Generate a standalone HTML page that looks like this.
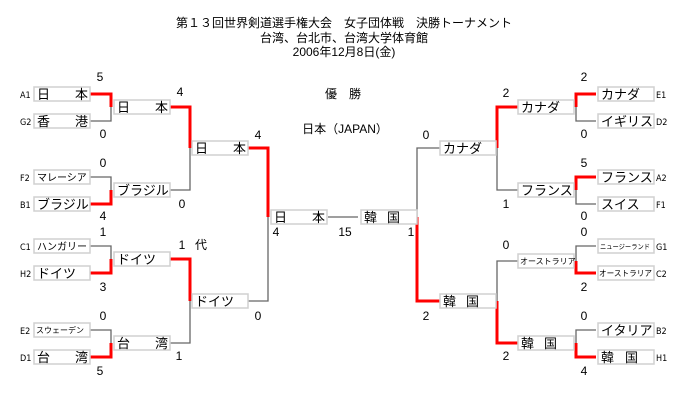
<!DOCTYPE html>
<html><head><meta charset="utf-8"><style>
html,body{margin:0;padding:0;background:#fff;width:700px;height:400px;overflow:hidden}
svg{display:block}
text{font-family:"Liberation Sans","Noto Sans CJK JP",sans-serif;fill:#000}
.b{fill:#fff;stroke:#d0d0d0;stroke-width:1.5}
.n{font-size:13px}
.s{font-size:8px}
.sc{font-size:12px}
.lb{font-size:9px;font-family:"DejaVu Sans Condensed","Liberation Sans",sans-serif}
.g{stroke:#666;stroke-width:1.3;fill:none}
.r{stroke:#f00;stroke-width:3;fill:none}
</style></head><body>
<svg width="700" height="400" xmlns="http://www.w3.org/2000/svg">
<text x="344" y="27" text-anchor="middle" style="font-size:12px">第１３回世界剣道選手権大会　女子団体戦　決勝トーナメント</text>
<text x="344" y="42" text-anchor="middle" style="font-size:12px">台湾、台北市、台湾大学体育館</text>
<text x="344" y="56" text-anchor="middle" style="font-size:12px">2006年12月8日(金)</text>
<text x="343" y="98" text-anchor="middle" style="font-size:12px">優　勝</text>
<text x="345" y="133" text-anchor="middle" style="font-size:12px">日本（JAPAN）</text>

<path class="r" d="M90 94H111V107"/><path class="g" d="M90 121H111V107"/>
<path class="g" d="M90 177H111V190"/><path class="r" d="M90 204H111V190"/>
<path class="g" d="M90 246H111V259"/><path class="r" d="M90 273H111V259"/>
<path class="g" d="M90 330H111V343"/><path class="r" d="M90 357H111V343"/>
<path class="r" d="M170 107H190V148"/><path class="g" d="M170 190H190V148"/>
<path class="r" d="M170 259H190V301"/><path class="g" d="M170 343H190V301"/>
<path class="r" d="M248 148H268V217"/><path class="g" d="M248 301H268V217"/>
<path class="g" d="M328 217H358"/>
<path class="g" d="M440 148H417V217"/><path class="r" d="M440 301H417V217"/>
<path class="r" d="M518 107H497V148"/><path class="g" d="M518 190H497V148"/>
<path class="g" d="M518 261H497V301"/><path class="r" d="M518 343H497V301"/>
<path class="r" d="M596 94H576V107"/><path class="g" d="M596 121H576V107"/>
<path class="r" d="M596 177H576V190"/><path class="g" d="M596 204H576V190"/>
<path class="g" d="M596 246H576V261"/><path class="r" d="M596 273H576V261"/>
<path class="g" d="M596 330H576V343"/><path class="r" d="M596 357H576V343"/>

<rect class="b" x="34" y="87" width="56" height="14"/><text class="n" x="37" y="99">日</text><text class="n" x="75" y="99">本</text>
<rect class="b" x="34" y="114" width="56" height="14"/><text class="n" x="37" y="126">香</text><text class="n" x="75" y="126">港</text>
<rect class="b" x="34" y="170" width="56" height="14"/><text x="37" y="181" style="font-size:10px">マレーシア</text>
<rect class="b" x="34" y="197" width="56" height="14"/><text class="n" x="37" y="209">ブラジル</text>
<rect class="b" x="34" y="239" width="56" height="14"/><text x="37" y="250" style="font-size:10px">ハンガリー</text>
<rect class="b" x="34" y="266" width="56" height="14"/><text class="n" x="37" y="278">ドイツ</text>
<rect class="b" x="34" y="323" width="56" height="14"/><text class="s" x="36" y="333">スウェーデン</text>
<rect class="b" x="34" y="350" width="56" height="14"/><text class="n" x="37" y="362">台</text><text class="n" x="75" y="362">湾</text>
<text class="lb" x="20" y="98">A1</text><text class="lb" x="20" y="125">G2</text>
<text class="lb" x="20" y="181">F2</text><text class="lb" x="20" y="208">B1</text>
<text class="lb" x="20" y="250">C1</text><text class="lb" x="20" y="277">H2</text>
<text class="lb" x="20" y="334">E2</text><text class="lb" x="20" y="361">D1</text>
<rect class="b" x="114" y="100" width="56" height="14"/><text class="n" x="117" y="112">日</text><text class="n" x="155" y="112">本</text>
<rect class="b" x="114" y="183" width="56" height="14"/><text class="n" x="117" y="195">ブラジル</text>
<rect class="b" x="114" y="252" width="56" height="14"/><text class="n" x="117" y="264">ドイツ</text>
<rect class="b" x="114" y="336" width="56" height="14"/><text class="n" x="117" y="348">台</text><text class="n" x="155" y="348">湾</text>
<rect class="b" x="192" y="141" width="56" height="14"/><text class="n" x="195" y="153">日</text><text class="n" x="233" y="153">本</text>
<rect class="b" x="192" y="294" width="56" height="14"/><text class="n" x="195" y="306">ドイツ</text>
<rect class="b" x="271" y="210" width="56" height="14"/><text class="n" x="274" y="222">日</text><text class="n" x="312" y="222">本</text>
<rect class="b" x="361" y="210" width="56" height="14"/><text class="n" x="364" y="222">韓</text><text class="n" x="387" y="222">国</text>
<rect class="b" x="440" y="141" width="56" height="14"/><text class="n" x="443" y="153">カナダ</text>
<rect class="b" x="440" y="294" width="56" height="14"/><text class="n" x="443" y="306">韓</text><text class="n" x="466" y="306">国</text>
<rect class="b" x="518" y="100" width="56" height="14"/><text class="n" x="521" y="112">カナダ</text>
<rect class="b" x="518" y="183" width="56" height="14"/><text class="n" x="521" y="195">フランス</text>
<rect class="b" x="518" y="254" width="56" height="14"/><text class="s" x="520" y="264">オーストラリア</text>
<rect class="b" x="518" y="336" width="56" height="14"/><text class="n" x="521" y="348">韓</text><text class="n" x="544" y="348">国</text>
<rect class="b" x="598" y="87" width="56" height="14"/><text class="n" x="601" y="99">カナダ</text>
<rect class="b" x="598" y="114" width="56" height="14"/><text class="n" x="601" y="126">イギリス</text>
<rect class="b" x="598" y="170" width="56" height="14"/><text class="n" x="601" y="182">フランス</text>
<rect class="b" x="598" y="197" width="56" height="14"/><text class="n" x="601" y="209">スイス</text>
<rect class="b" x="598" y="239" width="56" height="14"/><text x="600" y="249" style="font-size:7px" textLength="50" lengthAdjust="spacingAndGlyphs">ニュージーランド</text>
<rect class="b" x="598" y="266" width="56" height="14"/><text class="s" x="599" y="276" textLength="53" lengthAdjust="spacingAndGlyphs">オーストラリア</text>
<rect class="b" x="598" y="323" width="56" height="14"/><text class="n" x="601" y="335">イタリア</text>
<rect class="b" x="598" y="350" width="56" height="14"/><text class="n" x="601" y="362">韓</text><text class="n" x="625" y="362">国</text>
<text class="lb" x="656" y="98">E1</text><text class="lb" x="656" y="125">D2</text>
<text class="lb" x="656" y="181">A2</text><text class="lb" x="656" y="208">F1</text>
<text class="lb" x="656" y="250">G1</text><text class="lb" x="656" y="277">C2</text>
<text class="lb" x="656" y="334">B2</text><text class="lb" x="656" y="361">H1</text>

<text class="sc" x="100" y="81" text-anchor="middle">5</text>
<text class="sc" x="103" y="138" text-anchor="middle">0</text>
<text class="sc" x="180" y="96" text-anchor="middle">4</text>
<text class="sc" x="103" y="167" text-anchor="middle">0</text>
<text class="sc" x="103" y="220" text-anchor="middle">4</text>
<text class="sc" x="182" y="208" text-anchor="middle">0</text>
<text class="sc" x="258" y="139" text-anchor="middle">4</text>
<text class="sc" x="103" y="236" text-anchor="middle">1</text>
<text class="sc" x="103" y="291" text-anchor="middle">3</text>
<text class="sc" x="182" y="249" text-anchor="middle">1</text>
<text class="sc" x="201" y="249" text-anchor="middle">代</text>
<text class="sc" x="103" y="320" text-anchor="middle">0</text>
<text class="sc" x="100" y="375" text-anchor="middle">5</text>
<text class="sc" x="179" y="360" text-anchor="middle">1</text>
<text class="sc" x="258" y="320" text-anchor="middle">0</text>
<text class="sc" x="276" y="236" text-anchor="middle">4</text>
<text class="sc" x="345" y="236" text-anchor="middle">15</text>
<text class="sc" x="411" y="236" text-anchor="middle">1</text>
<text class="sc" x="426" y="139" text-anchor="middle">0</text>
<text class="sc" x="506" y="97" text-anchor="middle">2</text>
<text class="sc" x="506" y="208" text-anchor="middle">1</text>
<text class="sc" x="584" y="81" text-anchor="middle">2</text>
<text class="sc" x="584" y="138" text-anchor="middle">0</text>
<text class="sc" x="584" y="167" text-anchor="middle">5</text>
<text class="sc" x="584" y="220" text-anchor="middle">0</text>
<text class="sc" x="584" y="236" text-anchor="middle">0</text>
<text class="sc" x="584" y="291" text-anchor="middle">2</text>
<text class="sc" x="506" y="249" text-anchor="middle">0</text>
<text class="sc" x="426" y="320" text-anchor="middle">2</text>
<text class="sc" x="584" y="320" text-anchor="middle">0</text>
<text class="sc" x="584" y="375" text-anchor="middle">4</text>
<text class="sc" x="506" y="360" text-anchor="middle">2</text>
</svg>
</body></html>
